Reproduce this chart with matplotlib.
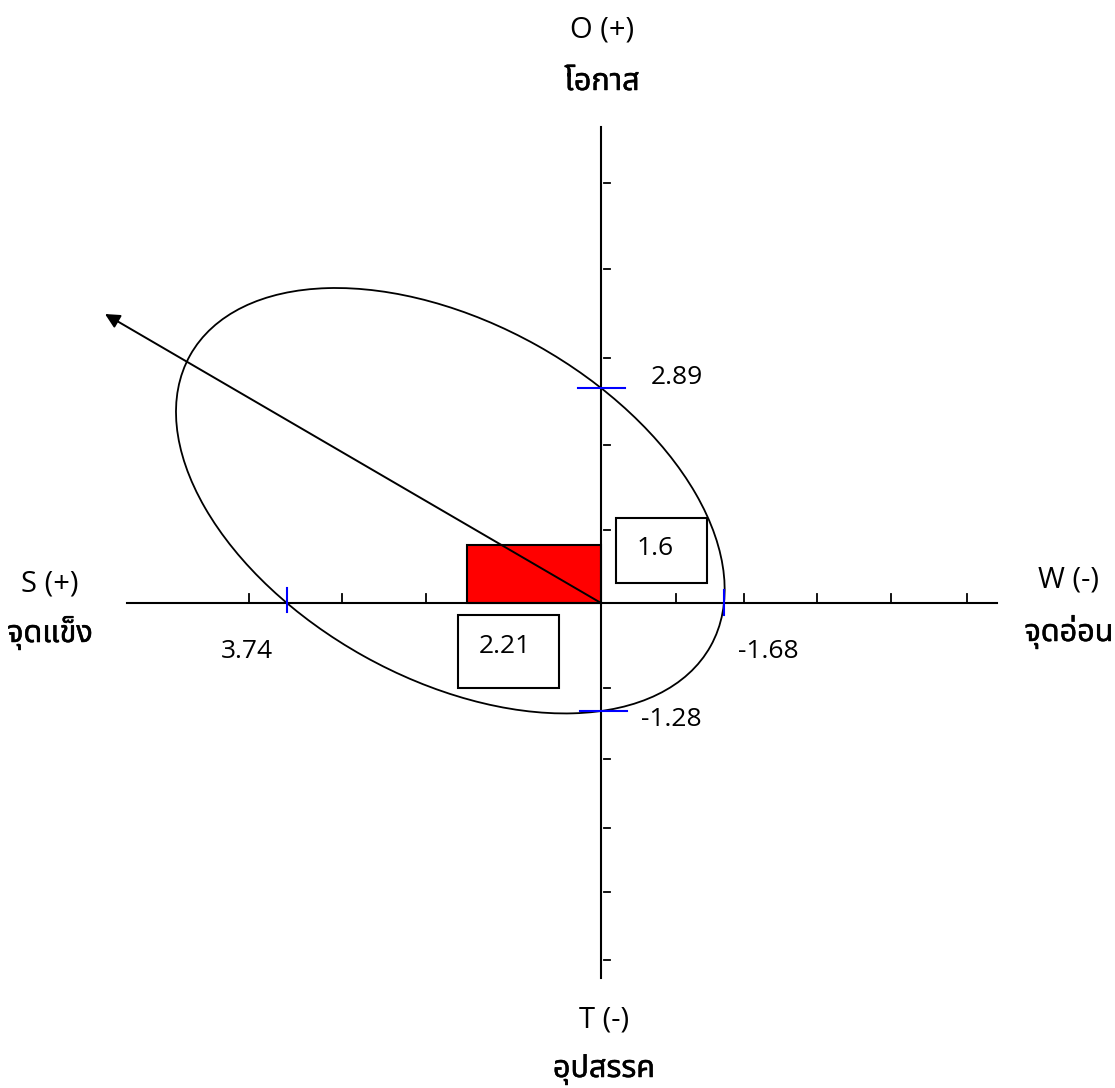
import numpy as np
import matplotlib
matplotlib.use("Agg")
import matplotlib.pyplot as plt
import matplotlib.font_manager as fm
import matplotlib.patheffects as pe
from matplotlib.ft2font import FT2Font
from matplotlib.patches import Rectangle, Ellipse

# SWOT scores
axis_names = ["S (+)", "W (-)", "O (+)", "T (-)"]
thai_names = ["จุดแข็ง", "จุดอ่อน", "โอกาส", "อุปสรรค"]
axis_scores = [3.74, 1.68, 2.89, 1.28]
score_labels = ["3.74", "-1.68", "2.89", "-1.28"]
net_sw = 2.21   # S - W
net_ot = 1.6    # O - T

# find a font that has Thai glyphs
thai_font = None
preferred = ["Noto Sans Thai", "Noto Sans Thai Looped", "Loma", "Garuda",
             "Tlwg Typo", "Waree", "Sawasdee", "Norasi", "Kinnari"]
cands = sorted(fm.fontManager.ttflist,
               key=lambda f: preferred.index(f.name) if f.name in preferred else 99)
for f in cands:
    try:
        if 0x0E08 in FT2Font(f.fname).get_charmap():
            thai_font = f.name
            break
    except Exception:
        pass
fams = ["Open Sans"] + ([thai_font] if thai_font else []) + ["DejaVu Sans"]
plt.rcParams["font.family"] = fams

# drawing units: pixels of the hand drawn layout, origin at axis crossing
unit_s, unit_w, unit_o, unit_t = 84.0, 73.2, 74.4, 84.4
rect_ux, rect_uy = 60.6, 36.3

fig = plt.figure(figsize=(11.15, 10.88), dpi=100)
ax = fig.add_axes([0, 0, 1, 1])
ax.set_xlim(-601, 514)
ax.set_ylim(-485, 603)
ax.axis("off")

# main axes
ax.plot([-474, 396], [0, 0], color="black", lw=1.5, zorder=3)
ax.plot([0, 0], [-375, 476], color="black", lw=1.5, zorder=3)

# ticks
for tx in [-352, -259, -175, 75, 143, 216, 290, 366]:
    ax.plot([tx, tx], [1, 9], color="black", lw=1.3, zorder=3)
for ty in [420, 334, 245, 158, 73, -85, -156, -225, -289, -357]:
    ax.plot([3, 9], [ty, ty], color="black", lw=1.3, zorder=3)

# score positions on the axes
sx = -axis_scores[0] * unit_s
wx = axis_scores[1] * unit_w
oy = axis_scores[2] * unit_o
ty_ = -axis_scores[3] * unit_t

# ellipse through the four axis points (plus one shape point)
pts = np.array([[sx, 0], [wx, 0], [0, oy], [0, ty_], [-425, 190]])
A = np.column_stack([pts[:, 0] * pts[:, 1], pts[:, 1] ** 2, pts[:, 0], pts[:, 1], np.ones(5)])
b, c, d, e, f = np.linalg.solve(A, -pts[:, 0] ** 2)
a = 1.0
x0, y0 = np.linalg.solve([[2 * a, b], [b, 2 * c]], [-d, -e])
F0 = f + (d * x0 + e * y0) / 2
M = np.array([[a, b / 2], [b / 2, c]]) / (-F0)
w, v = np.linalg.eigh(M)
semi_major, semi_minor = 1 / np.sqrt(w[0]), 1 / np.sqrt(w[1])
ang = np.degrees(np.arctan2(v[1, 0], v[0, 0]))
ax.add_patch(Ellipse((x0, y0), 2 * semi_major, 2 * semi_minor, angle=ang,
                     fill=False, ec="black", lw=1.3, zorder=2))

# net position rectangle
ax.add_patch(Rectangle((-net_sw * rect_ux, 0), net_sw * rect_ux, net_ot * rect_uy,
                       fc="#ff0000", ec="black", lw=1.5, zorder=2))

# strategy arrow
ax.annotate("", xy=(-496, 289), xytext=(0, 0),
            arrowprops=dict(arrowstyle="-|>", color="black", lw=1.4,
                            mutation_scale=22, shrinkA=0, shrinkB=0), zorder=4)

# blue score marks
ax.plot([sx, sx], [-9, 15], color="#0000ff", lw=1.5, zorder=5)
ax.plot([wx, wx], [-12, 13], color="#0000ff", lw=1.5, zorder=5)
ax.plot([-23, 24], [oy, oy], color="#0000ff", lw=1.5, zorder=5)
ax.plot([-21, 26], [ty_, ty_], color="#0000ff", lw=1.5, zorder=5)

# value boxes
ax.add_patch(Rectangle((15, 20), 91, 65, fc="white", ec="black", lw=1.5, zorder=3))
ax.add_patch(Rectangle((-143, -85), 101, 73, fc="white", ec="black", lw=1.5, zorder=3))
ax.text(54, 48, f"{net_ot:g}", fontsize=19, ha="center", va="baseline", zorder=6)
ax.text(-96, -50, f"{net_sw:g}", fontsize=19, ha="center", va="baseline", zorder=6)

# score labels
ax.text(-354, -55, score_labels[0], fontsize=19, ha="center", va="baseline")
ax.text(167, -55, score_labels[1], fontsize=19, ha="center", va="baseline")
ax.text(76, 219, score_labels[2], fontsize=19, ha="center", va="baseline")
ax.text(70, -123, score_labels[3], fontsize=19, ha="center", va="baseline")

# axis names
bold = [pe.withStroke(linewidth=0.35, foreground="black")]
name_pos = [(-551, 12, -39), (468, 16, -38), (1, 565, 513), (3, -424, -474)]
for name, thai, (nx, ny1, ny2) in zip(axis_names, thai_names, name_pos):
    ax.text(nx, ny1, name, fontsize=21, ha="center", va="baseline")
    ax.text(nx, ny2, thai, fontsize=22, ha="center", va="baseline",
            fontweight="medium", path_effects=bold)

fig.savefig("out.png", dpi=100, facecolor="white")
